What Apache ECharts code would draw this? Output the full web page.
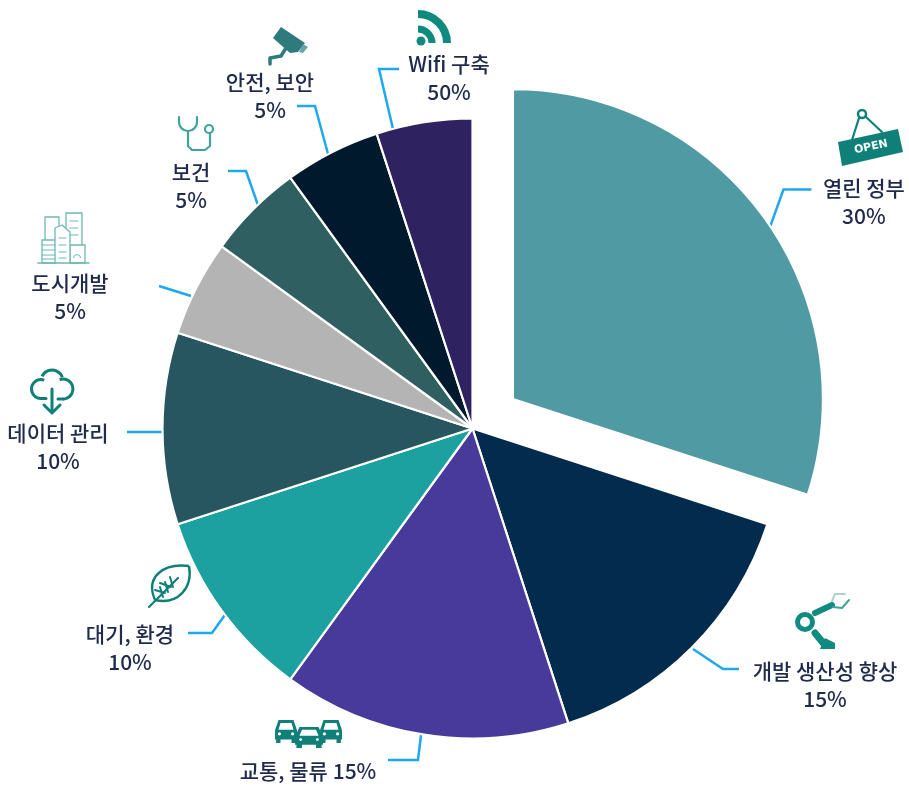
<!DOCTYPE html>
<html><head><meta charset="utf-8">
<style>html,body{margin:0;padding:0;background:#fff}#c{width:909px;height:787px}</style>
<script src="https://cdn.jsdelivr.net/npm/echarts@6/dist/echarts.min.js"></script>
</head><body><div id="c"></div>
<script>
const categories = ['열린 정부','개발 생산성 향상','교통, 물류','대기, 환경','데이터 관리','도시개발','보건','안전, 보안','Wifi 구축'];
const values = [30,15,15,10,10,5,5,5,5];
const shownPercents = ['30%','15%','15%','10%','10%','5%','5%','5%','50%'];
const colors = ['#4f9aa3','#022b4d','#483a9a','#1ca0a0','#275660','#b4b4b4','#2f5f60','#00192d','#2f2260'];
const labelSeparators = ['\n','\n',' ','\n','\n','\n','\n','\n','\n'];
const labelTails = ['\n{s| }','','','','','','','',''];
const labelCenters = [[863,202],[825,685],[308,771],[130,648],[58,447],[70,297],[191,186],[270,96],[449,78]];
const offsetDx = 41, offsetDy = -30;
const leaderPoints = [
  [[770-offsetDx,228-offsetDy],[784-offsetDx,189-offsetDy],[812-offsetDx,189-offsetDy]],
  [[693,649],[723,669],[739,669]],
  [[421,735],[418,760],[388,760]],
  [[227,612],[212,633],[188,633]],
  [[164,432],[146,432],[127,432]],
  [[191,296],[175,291],[159,286]],
  [[259,208],[246,171],[228,171]],
  [[328,154],[315,106],[297,106]],
  [[393,129],[379,69],[399,69]]
];
const rad = d => d * Math.PI / 180;
const line = (pts, c, w, fill) => ({type:'polyline', silent:true, shape:{points:pts}, style:{stroke:c, lineWidth:w, fill:fill||null, lineJoin:'round', lineCap:'round'}});
const poly = (pts, c) => ({type:'polygon', silent:true, shape:{points:pts}, style:{fill:c}});
const dot = (x,y,r,c) => ({type:'circle', silent:true, shape:{cx:x,cy:y,r:r}, style:{fill:c}});
const ring = (x,y,r,c,w) => ({type:'circle', silent:true, shape:{cx:x,cy:y,r:r}, style:{fill:null,stroke:c,lineWidth:w}});
const arc = (x,y,r,a,b,c,w) => ({type:'arc', silent:true, shape:{cx:x,cy:y,r:r,startAngle:rad(a),endAngle:rad(b),clockwise:true}, style:{stroke:c,lineWidth:w,fill:null}});
const curve = (a,b,c1,c2,c,w) => ({type:'bezierCurve', silent:true, shape:{x1:a[0],y1:a[1],cpx1:c1[0],cpy1:c1[1],cpx2:c2[0],cpy2:c2[1],x2:b[0],y2:b[1]}, style:{stroke:c,lineWidth:w,fill:null}});
const box = (x,y,w,h,c,lw) => ({type:'rect', silent:true, shape:{x:x,y:y,width:w,height:h}, style:{fill:'#fff',stroke:c,lineWidth:lw}});

const teal = '#0f8078';
function car(x,y,w,h,c){
  return [
    poly([[x+w*0.16,y],[x+w*0.84,y],[x+w,y+h*0.45],[x+w,y+h*0.85],[x,y+h*0.85],[x,y+h*0.45]],c),
    poly([[x+w*0.25,y+h*0.13],[x+w*0.75,y+h*0.13],[x+w*0.84,y+h*0.42],[x+w*0.16,y+h*0.42]],'#fff'),
    {type:'rect',silent:true,shape:{x:x+w*0.05,y:y+h*0.8,width:w*0.2,height:h*0.2},style:{fill:c}},
    {type:'rect',silent:true,shape:{x:x+w*0.75,y:y+h*0.8,width:w*0.2,height:h*0.2},style:{fill:c}},
    dot(x+w*0.2,y+h*0.6,h*0.07,'#fff'), dot(x+w*0.8,y+h*0.6,h*0.07,'#fff')
  ];
}
const bc = '#6db9b2';
const icons = [
  dot(421,41,4.5,'#0f8a7e'), arc(418,43,14,270,360,'#0f8a7e',7), arc(418,43,29,270,360,'#0f8a7e',8),
  poly([[273,38],[281,27],[305,43],[298,52],[290,53]],'#2f7a7d'),
  poly([[303,44],[308,47],[303,53],[299,52]],'#6aa3a5'),
  line([[270,64],[270,58],[281,56],[286,48]],'#2f7a7d',3.5),
  line([[179,117],[179,122]],'#3fa39c',2.2), line([[197,117],[197,122]],'#3fa39c',2.2),
  arc(188,122,9,0,180,'#3fa39c',2.2), line([[188,131],[188,146],[192,150],[205,150],[210,146],[210,133]],'#3fa39c',2.2),
  ring(209,129,4,'#3fa39c',2.2),
  box(45,217,14,30,bc,1.3), box(66,213,16,34,bc,1.3), box(42,240,14,23,bc,1.3), box(70,245,15,18,bc,1.3),
  line([[55,263],[55,228],[62,225],[70,232],[70,263]],bc,1.3,'#fff'),
  line([[38,263],[89,263]],bc,1.5),
  line([[42,245],[55,245]],bc,1), line([[42,250],[55,250]],bc,1), line([[42,255],[55,255]],bc,1), line([[42,259],[55,259]],bc,1),
  line([[59,238],[66,238]],bc,1), line([[59,245],[66,245]],bc,1), line([[59,252],[66,252]],bc,1), line([[59,258],[66,258]],bc,1),
  line([[70,221],[78,221]],bc,1), line([[70,228],[78,228]],bc,1), line([[70,235],[78,235]],bc,1),
  arc(77,258,3.5,180,360,bc,1),
  arc(41,389,9.5,90,290,teal,3), arc(52,381,11,205,340,teal,3), arc(63,389,10,250,450,teal,3),
  line([[41,398.5],[46,398.5]],teal,3), line([[58,399],[63,399]],teal,3),
  line([[52,389],[52,412]],teal,3), line([[44,405],[52,413],[60,405]],teal,3),
  curve([155,600],[189,566],[145,577],[163,563],teal,2.4), curve([155,600],[189,566],[178,605],[193,588],teal,2.4),
  line([[149,607],[178,578]],teal,2.2),
  line([[160,587],[163,597]],teal,2), line([[165,582],[168,592]],teal,2), line([[170,577],[173,587]],teal,2), line([[155,590],[165,593]],teal,2), line([[160,583],[171,587]],teal,2),
  ring(862,114,4,teal,2.5), line([[859,118],[852,140]],teal,2.2), line([[866,117],[882,132]],teal,2.2),
  poly([[838,142],[898,129],[903,152],[842,166]],teal),
  {type:'text', silent:true, x:871, y:147, rotation:0.21, style:{text:'OPEN', fill:'#fff', font:'bold 11px "DejaVu Sans"', align:'center', verticalAlign:'middle'}},
  ring(805,622,7.5,'#0f8b80',5), line([[815,613],[832,605]],'#0f8b80',6),
  line([[832,601],[835,594],[845,594]],'#a9d3cf',2), line([[849,600],[842,608],[833,607]],'#3fa39c',2),
  line([[815,633],[824,644]],'#0f8b80',7), poly([[820,649],[835,649],[835,643],[825,638]],'#0f8b80')
].concat(car(275,720,22,23,teal), car(320,720,22,23,teal), car(295,727,28,21,teal));

const chart = echarts.init(document.getElementById('c'));
chart.setOption({
  animation:false,
  backgroundColor:'#fff',
  graphic:{elements:icons},
  series:[{
    type:'pie',
    center:[472.5,428.5],
    radius:[0,310],
    startAngle:90,
    clockwise:true,
    avoidLabelOverlap:false,
    selectedMode:'single',
    selectedOffset:50,
    itemStyle:{borderColor:'#fff',borderWidth:2.2},
    emphasis:{disabled:true},
    label:{show:true,position:'outer',color:'#1f2a4d',fontSize:21,lineHeight:28,fontFamily:'"Noto Sans CJK KR"',fontWeight:500,align:'center',
      rich:{s:{fontSize:1,lineHeight:13}},
      formatter:p=>categories[p.dataIndex]+labelSeparators[p.dataIndex]+shownPercents[p.dataIndex]+labelTails[p.dataIndex]},
    labelLine:{show:true,smooth:false,lineStyle:{color:'#1fa8ee',width:2.5}},
    labelLayout:p=>({x:labelCenters[p.dataIndex][0],y:labelCenters[p.dataIndex][1],align:'center',verticalAlign:'middle',labelLinePoints:leaderPoints[p.dataIndex]}),
    data:categories.map((n,i)=>({name:n,value:values[i],selected:i===0,itemStyle:{color:colors[i]},
      label:i===0?{padding:[0,0,0,106]}:undefined}))
  }]
});
</script></body></html>
